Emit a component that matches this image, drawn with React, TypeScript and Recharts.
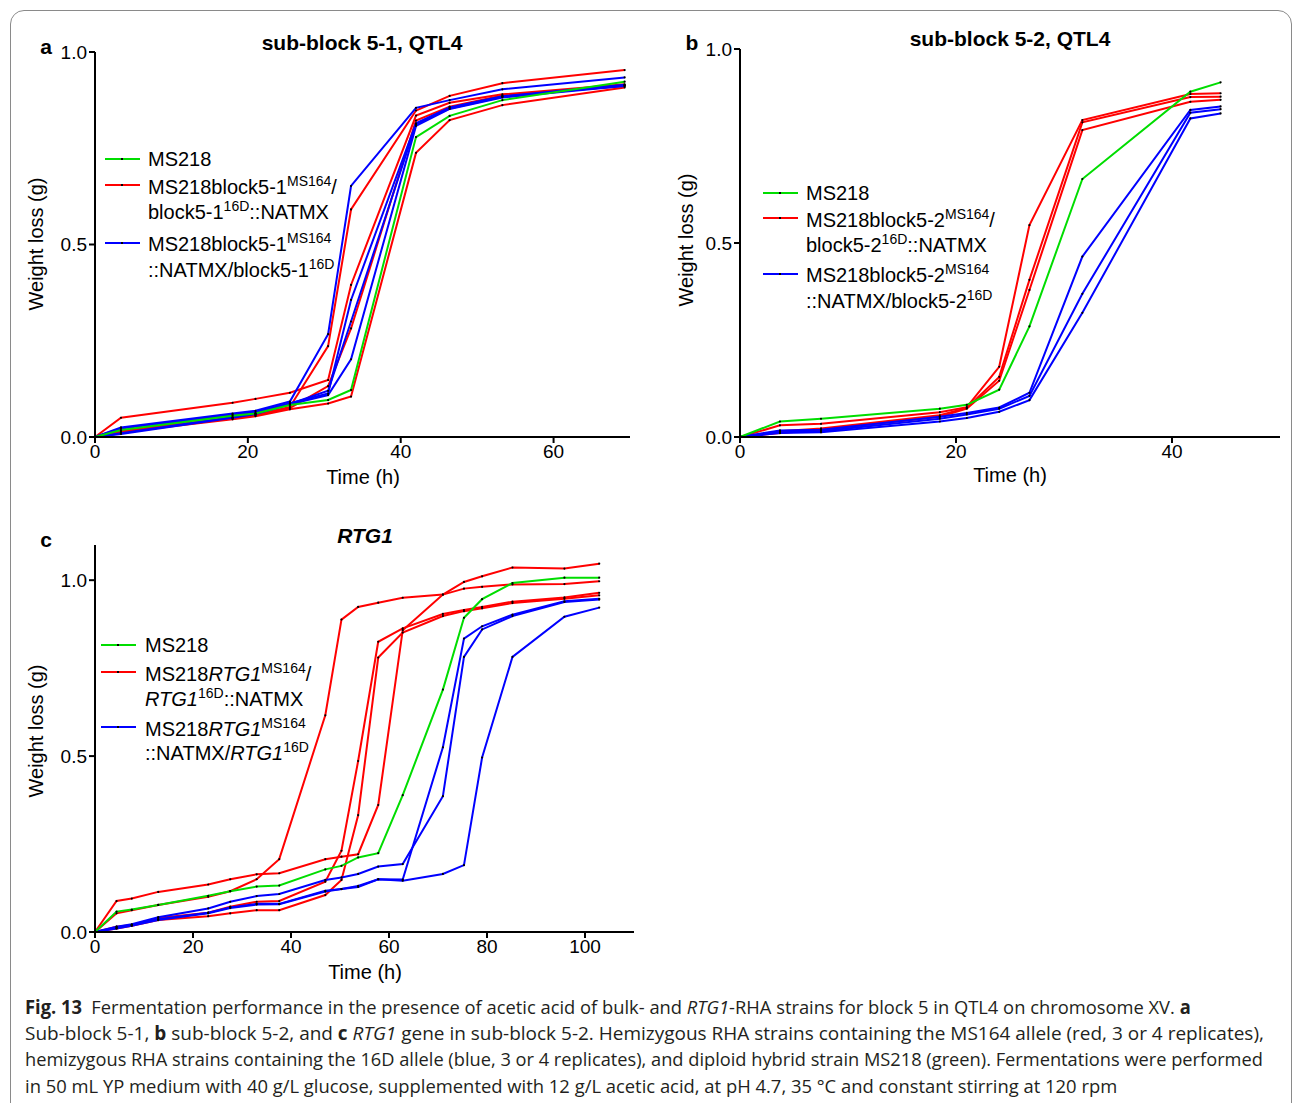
import React, { useLayoutEffect, useRef, useState } from "react";
import { LineChart, Line, XAxis, YAxis } from "recharts";

const FONT = '"Liberation Sans", Arial, Helvetica, sans-serif';
const RED = "#ff0000";
const BLUE = "#0000ff";
const GREEN = "#00dd00";

// panel a: sub-block 5-1
const timeA = [0, 3.4, 18, 21, 25.5, 30.5, 33.5, 42, 46.4, 53.3, 69.3];
const aGreen = [0, 0.018, 0.055, 0.061, 0.083, 0.096, 0.122, 0.779, 0.834, 0.875, 0.923];
const aRed1 = [0, 0.05, 0.089, 0.099, 0.115, 0.148, 0.395, 0.835, 0.868, 0.89, 0.916];
const aRed2 = [0, 0.016, 0.05, 0.058, 0.078, 0.236, 0.591, 0.848, 0.886, 0.919, 0.953];
const aRed3 = [0, 0.014, 0.048, 0.056, 0.075, 0.132, 0.282, 0.822, 0.858, 0.887, 0.912];
const aRed4 = [0, 0.012, 0.046, 0.054, 0.072, 0.087, 0.105, 0.738, 0.823, 0.862, 0.908];
const aBlue1 = [0, 0.025, 0.061, 0.068, 0.092, 0.267, 0.652, 0.855, 0.875, 0.903, 0.934];
const aBlue2 = [0, 0.022, 0.058, 0.065, 0.088, 0.113, 0.356, 0.815, 0.856, 0.885, 0.915];
const aBlue3 = [0, 0.008, 0.05, 0.06, 0.085, 0.109, 0.202, 0.808, 0.852, 0.882, 0.912];
const aBlue4 = [0, 0.01, 0.052, 0.061, 0.086, 0.12, 0.3, 0.812, 0.853, 0.884, 0.913];

// panel b: sub-block 5-2
const timeB = [0, 3.7, 7.5, 18.5, 21, 24, 26.8, 31.7, 41.7, 44.5];
const bGreen = [0, 0.04, 0.047, 0.073, 0.083, 0.122, 0.285, 0.665, 0.89, 0.914];
const bRed1 = [0, 0.03, 0.034, 0.064, 0.077, 0.181, 0.546, 0.817, 0.884, 0.886];
const bRed2 = [0, 0.015, 0.022, 0.056, 0.075, 0.155, 0.405, 0.811, 0.876, 0.877];
const bRed3 = [0, 0.01, 0.018, 0.052, 0.073, 0.145, 0.379, 0.791, 0.864, 0.869];
const bBlue1 = [0, 0.017, 0.019, 0.052, 0.062, 0.076, 0.114, 0.465, 0.843, 0.852];
const bBlue2 = [0, 0.012, 0.015, 0.047, 0.058, 0.073, 0.106, 0.369, 0.836, 0.845];
const bBlue3 = [0, 0.01, 0.012, 0.04, 0.049, 0.065, 0.095, 0.32, 0.821, 0.834];

// panel c: RTG1
const timeC = [0, 4.4, 7.5, 12.9, 23.1, 27.6, 33, 37.6, 47, 50.3, 53.7, 57.8, 62.8, 71, 75.3, 79, 85.2, 95.8, 102.9];
const cGreen = [0, 0.058, 0.064, 0.077, 0.103, 0.116, 0.129, 0.132, 0.178, 0.188, 0.212, 0.224, 0.389, 0.689, 0.893, 0.946, 0.992, 1.007, 1.007];
const cRed1 = [0, 0.088, 0.095, 0.114, 0.135, 0.15, 0.164, 0.167, 0.207, 0.214, 0.221, 0.361, 0.858, 0.959, 0.995, 1.011, 1.036, 1.033, 1.047];
const cRed2 = [0, 0.053, 0.062, 0.077, 0.1, 0.116, 0.15, 0.207, 0.616, 0.888, 0.924, 0.936, 0.95, 0.959, 0.976, 0.981, 0.988, 0.989, 0.997];
const cRed3 = [0, 0.015, 0.02, 0.04, 0.055, 0.072, 0.086, 0.088, 0.143, 0.231, 0.486, 0.825, 0.863, 0.904, 0.915, 0.924, 0.939, 0.951, 0.964];
const cRed4 = [0, 0.01, 0.018, 0.034, 0.045, 0.053, 0.062, 0.062, 0.105, 0.148, 0.332, 0.78, 0.851, 0.898, 0.912, 0.92, 0.935, 0.947, 0.957];
const cBlue1 = [0, 0.015, 0.022, 0.042, 0.067, 0.086, 0.102, 0.108, 0.148, 0.155, 0.165, 0.186, 0.193, 0.386, 0.782, 0.86, 0.898, 0.938, 0.945];
const cBlue2 = [0, 0.012, 0.02, 0.036, 0.055, 0.07, 0.08, 0.08, 0.117, 0.122, 0.128, 0.15, 0.149, 0.525, 0.834, 0.869, 0.902, 0.94, 0.947];
const cBlue3 = [0, 0.01, 0.018, 0.034, 0.053, 0.068, 0.078, 0.079, 0.115, 0.122, 0.131, 0.15, 0.146, 0.165, 0.19, 0.496, 0.782, 0.896, 0.922];

const yTicks = [0, 0.5, 1];

// turn parallel arrays into recharts rows
const buildRows = (time: number[], series: Record<string, number[]>) =>
  time.map((t, i) => {
    const row: any = { t };
    Object.keys(series).forEach((k) => (row[k] = series[k][i]));
    return row;
  });

const rowsA = buildRows(timeA, { g: aGreen, r1: aRed1, r2: aRed2, r3: aRed3, r4: aRed4, b1: aBlue1, b2: aBlue2, b3: aBlue3, b4: aBlue4 });
const rowsB = buildRows(timeB, { g: bGreen, r1: bRed1, r2: bRed2, r3: bRed3, b1: bBlue1, b2: bBlue2, b3: bBlue3 });
const rowsC = buildRows(timeC, { g: cGreen, r1: cRed1, r2: cRed2, r3: cRed3, r4: cRed4, b1: cBlue1, b2: cBlue2, b3: cBlue3 });

const colorOf = (k: string) => (k[0] === "r" ? RED : k[0] === "b" ? BLUE : GREEN);

const axisStyle = { stroke: "#000", strokeWidth: 2 };
const tickStyle = { fill: "#000", fontSize: 19, fontFamily: FONT };

function Panel(props: any) {
  const { left, top, width, height, margin, xMax, xTicks, yMax, rows, keys } = props;
  return (
    <div style={{ position: "absolute", left, top }}>
      <LineChart width={width} height={height} data={rows} margin={margin}>
        <XAxis
          type="number"
          dataKey="t"
          domain={[0, xMax]}
          ticks={xTicks}
          height={60}
          tickSize={6}
          tickMargin={2}
          axisLine={axisStyle}
          tickLine={axisStyle}
          tick={tickStyle}
        />
        <YAxis
          type="number"
          domain={[0, yMax]}
          ticks={yTicks}
          width={95}
          tickSize={6}
          tickMargin={2}
          tickFormatter={(v: number) => v.toFixed(1)}
          axisLine={axisStyle}
          tickLine={axisStyle}
          tick={tickStyle}
        />
        {keys.map((k: string) => (
          <Line
            key={k}
            type="linear"
            dataKey={k}
            stroke={colorOf(k)}
            strokeWidth={2}
            dot={{ r: 1.1, fill: "#000", stroke: "none" }}
            isAnimationActive={false}
          />
        ))}
      </LineChart>
    </div>
  );
}

const Centered = ({ x, y, children, style }: any) => (
  <div style={{ position: "absolute", left: x, top: y, transform: "translate(-50%, -50%)", whiteSpace: "nowrap", ...style }}>
    {children}
  </div>
);

const YTitle = ({ x, y }: any) => (
  <div
    style={{
      position: "absolute",
      left: x,
      top: y,
      transform: "translate(-50%, -50%) rotate(-90deg)",
      whiteSpace: "nowrap",
      fontSize: 20,
    }}
  >
    Weight loss (g)
  </div>
);

const Sup = ({ children }: any) => (
  <span style={{ fontSize: 14, position: "relative", top: -8 }}>{children}</span>
);

// legend sample line with the small marker in the middle
const Sample = ({ x, y, color }: any) => (
  <>
    <div style={{ position: "absolute", left: x, top: y - 1, width: 35, height: 2, background: color }} />
    <div style={{ position: "absolute", left: x + 16, top: y - 1, width: 2, height: 2, background: "#000" }} />
  </>
);

const LegendText = ({ x, y, children }: any) => (
  <div style={{ position: "absolute", left: x, top: y, transform: "translateY(-50%)", whiteSpace: "nowrap", fontSize: 20, lineHeight: "22px" }}>
    {children}
  </div>
);

function BlockLegend({ sx, tx, ys, block }: any) {
  return (
    <>
      <Sample x={sx} y={ys[0]} color={GREEN} />
      <LegendText x={tx} y={ys[0]}>MS218</LegendText>
      <Sample x={sx} y={ys[1]} color={RED} />
      <LegendText x={tx} y={ys[1] + 3}>
        MS218block{block}
        <Sup>MS164</Sup>/
      </LegendText>
      <LegendText x={tx} y={ys[1] + 28}>
        block{block}
        <Sup>16D</Sup>::NATMX
      </LegendText>
      <Sample x={sx} y={ys[2]} color={BLUE} />
      <LegendText x={tx} y={ys[2] + 2}>
        MS218block{block}
        <Sup>MS164</Sup>
      </LegendText>
      <LegendText x={tx} y={ys[2] + 28}>
        ::NATMX/block{block}
        <Sup>16D</Sup>
      </LegendText>
    </>
  );
}

function RtgLegend({ sx, tx, ys }: any) {
  return (
    <>
      <Sample x={sx} y={ys[0]} color={GREEN} />
      <LegendText x={tx} y={ys[0]}>MS218</LegendText>
      <Sample x={sx} y={ys[1]} color={RED} />
      <LegendText x={tx} y={ys[1] + 3}>
        MS218<i>RTG1</i>
        <Sup>MS164</Sup>/
      </LegendText>
      <LegendText x={tx} y={ys[1] + 28}>
        <i>RTG1</i>
        <Sup>16D</Sup>::NATMX
      </LegendText>
      <Sample x={sx} y={ys[2]} color={BLUE} />
      <LegendText x={tx} y={ys[2] + 3}>
        MS218<i>RTG1</i>
        <Sup>MS164</Sup>
      </LegendText>
      <LegendText x={tx} y={ys[2] + 27}>
        ::NATMX/<i>RTG1</i>
        <Sup>16D</Sup>
      </LegendText>
    </>
  );
}

// caption line squeezed horizontally to the width it has in the figure
function CaptionLine({ y, width, children }: any) {
  const ref = useRef<HTMLDivElement>(null);
  const [scale, setScale] = useState(1);
  useLayoutEffect(() => {
    if (ref.current) {
      const natural = ref.current.scrollWidth;
      if (natural > 0) setScale(width / natural);
    }
  }, [width]);
  return (
    <div
      ref={ref}
      style={{
        position: "absolute",
        left: 25,
        top: y,
        transform: `translateY(-50%) scaleX(${scale})`,
        transformOrigin: "left center",
        whiteSpace: "nowrap",
        fontSize: 19,
        lineHeight: "22px",
        color: "#231f20",
        fontFamily: '"Open Sans", Arial, sans-serif',
      }}
    >
      {children}
    </div>
  );
}

function Caption() {
  return (
    <>
      <CaptionLine y={1007} width={1166}>
        <b>Fig. 13</b>
        {"\u2002Fermentation performance in the presence of acetic acid of bulk- and "}
        <i>RTG1</i>-RHA strains for block 5 in QTL4 on chromosome XV. <b>a</b>
      </CaptionLine>
      <CaptionLine y={1033} width={1239}>
        Sub-block 5-1, <b>b</b> sub-block 5-2, and <b>c</b> <i>RTG1</i> gene in sub-block 5-2. Hemizygous RHA strains containing the MS164
        allele (red, 3 or 4 replicates),
      </CaptionLine>
      <CaptionLine y={1059} width={1238}>
        hemizygous RHA strains containing the 16D allele (blue, 3 or 4 replicates), and diploid hybrid strain MS218 (green). Fermentations were
        performed
      </CaptionLine>
      <CaptionLine y={1086} width={1092}>
        in 50 mL YP medium with 40 g/L glucose, supplemented with 12 g/L acetic acid, at pH 4.7, 35 °C and constant stirring at 120 rpm
      </CaptionLine>
    </>
  );
}

export default function App() {
  return (
    <div
      style={{
        position: "absolute",
        left: 0,
        top: 0,
        width: 1293,
        height: 1103,
        overflow: "hidden",
        background: "#fff",
        fontFamily: FONT,
        color: "#000",
      }}
    >
      <div
        style={{
          position: "absolute",
          left: 10,
          top: 10,
          width: 1280,
          height: 1120,
          border: "1px solid #8a8a8a",
          borderRadius: 14,
        }}
      />

      <Panel
        left={0}
        top={30}
        width={640}
        height={470}
        margin={{ top: 22, right: 10, left: 0, bottom: 3 }}
        xMax={70}
        xTicks={[0, 20, 40, 60]}
        yMax={1}
        rows={rowsA}
        keys={["r1", "r2", "r3", "r4", "b1", "b2", "b3", "b4", "g"]}
      />
      <Panel
        left={645}
        top={30}
        width={645}
        height={470}
        margin={{ top: 19, right: 10, left: 0, bottom: 3 }}
        xMax={50}
        xTicks={[0, 20, 40]}
        yMax={1}
        rows={rowsB}
        keys={["r1", "r2", "r3", "b1", "b2", "b3", "g"]}
      />
      <Panel
        left={0}
        top={520}
        width={640}
        height={475}
        margin={{ top: 25, right: 6, left: 0, bottom: 3 }}
        xMax={110}
        xTicks={[0, 20, 40, 60, 80, 100]}
        yMax={1.1}
        rows={rowsC}
        keys={["r1", "r2", "r3", "r4", "b1", "b2", "b3", "g"]}
      />

      {/* panel letters and titles */}
      <Centered x={46} y={47} style={{ fontSize: 21, fontWeight: "bold" }}>a</Centered>
      <Centered x={692} y={43} style={{ fontSize: 21, fontWeight: "bold" }}>b</Centered>
      <Centered x={46} y={540} style={{ fontSize: 21, fontWeight: "bold" }}>c</Centered>
      <Centered x={362} y={43} style={{ fontSize: 21, fontWeight: "bold" }}>sub-block 5-1, QTL4</Centered>
      <Centered x={1010} y={39} style={{ fontSize: 21, fontWeight: "bold" }}>sub-block 5-2, QTL4</Centered>
      <Centered x={365} y={536} style={{ fontSize: 21, fontWeight: "bold", fontStyle: "italic" }}>RTG1</Centered>

      {/* axis titles */}
      <YTitle x={36} y={244} />
      <YTitle x={686} y={240} />
      <YTitle x={36} y={731} />
      <Centered x={363} y={477} style={{ fontSize: 20 }}>Time (h)</Centered>
      <Centered x={1010} y={475} style={{ fontSize: 20 }}>Time (h)</Centered>
      <Centered x={365} y={972} style={{ fontSize: 20 }}>Time (h)</Centered>

      {/* legends */}
      <BlockLegend sx={105} tx={148} ys={[159, 185, 243]} block="5-1" />
      <BlockLegend sx={763} tx={806} ys={[193, 218, 274]} block="5-2" />
      <RtgLegend sx={101} tx={145} ys={[645, 672, 727]} />

      <Caption />
    </div>
  );
}
